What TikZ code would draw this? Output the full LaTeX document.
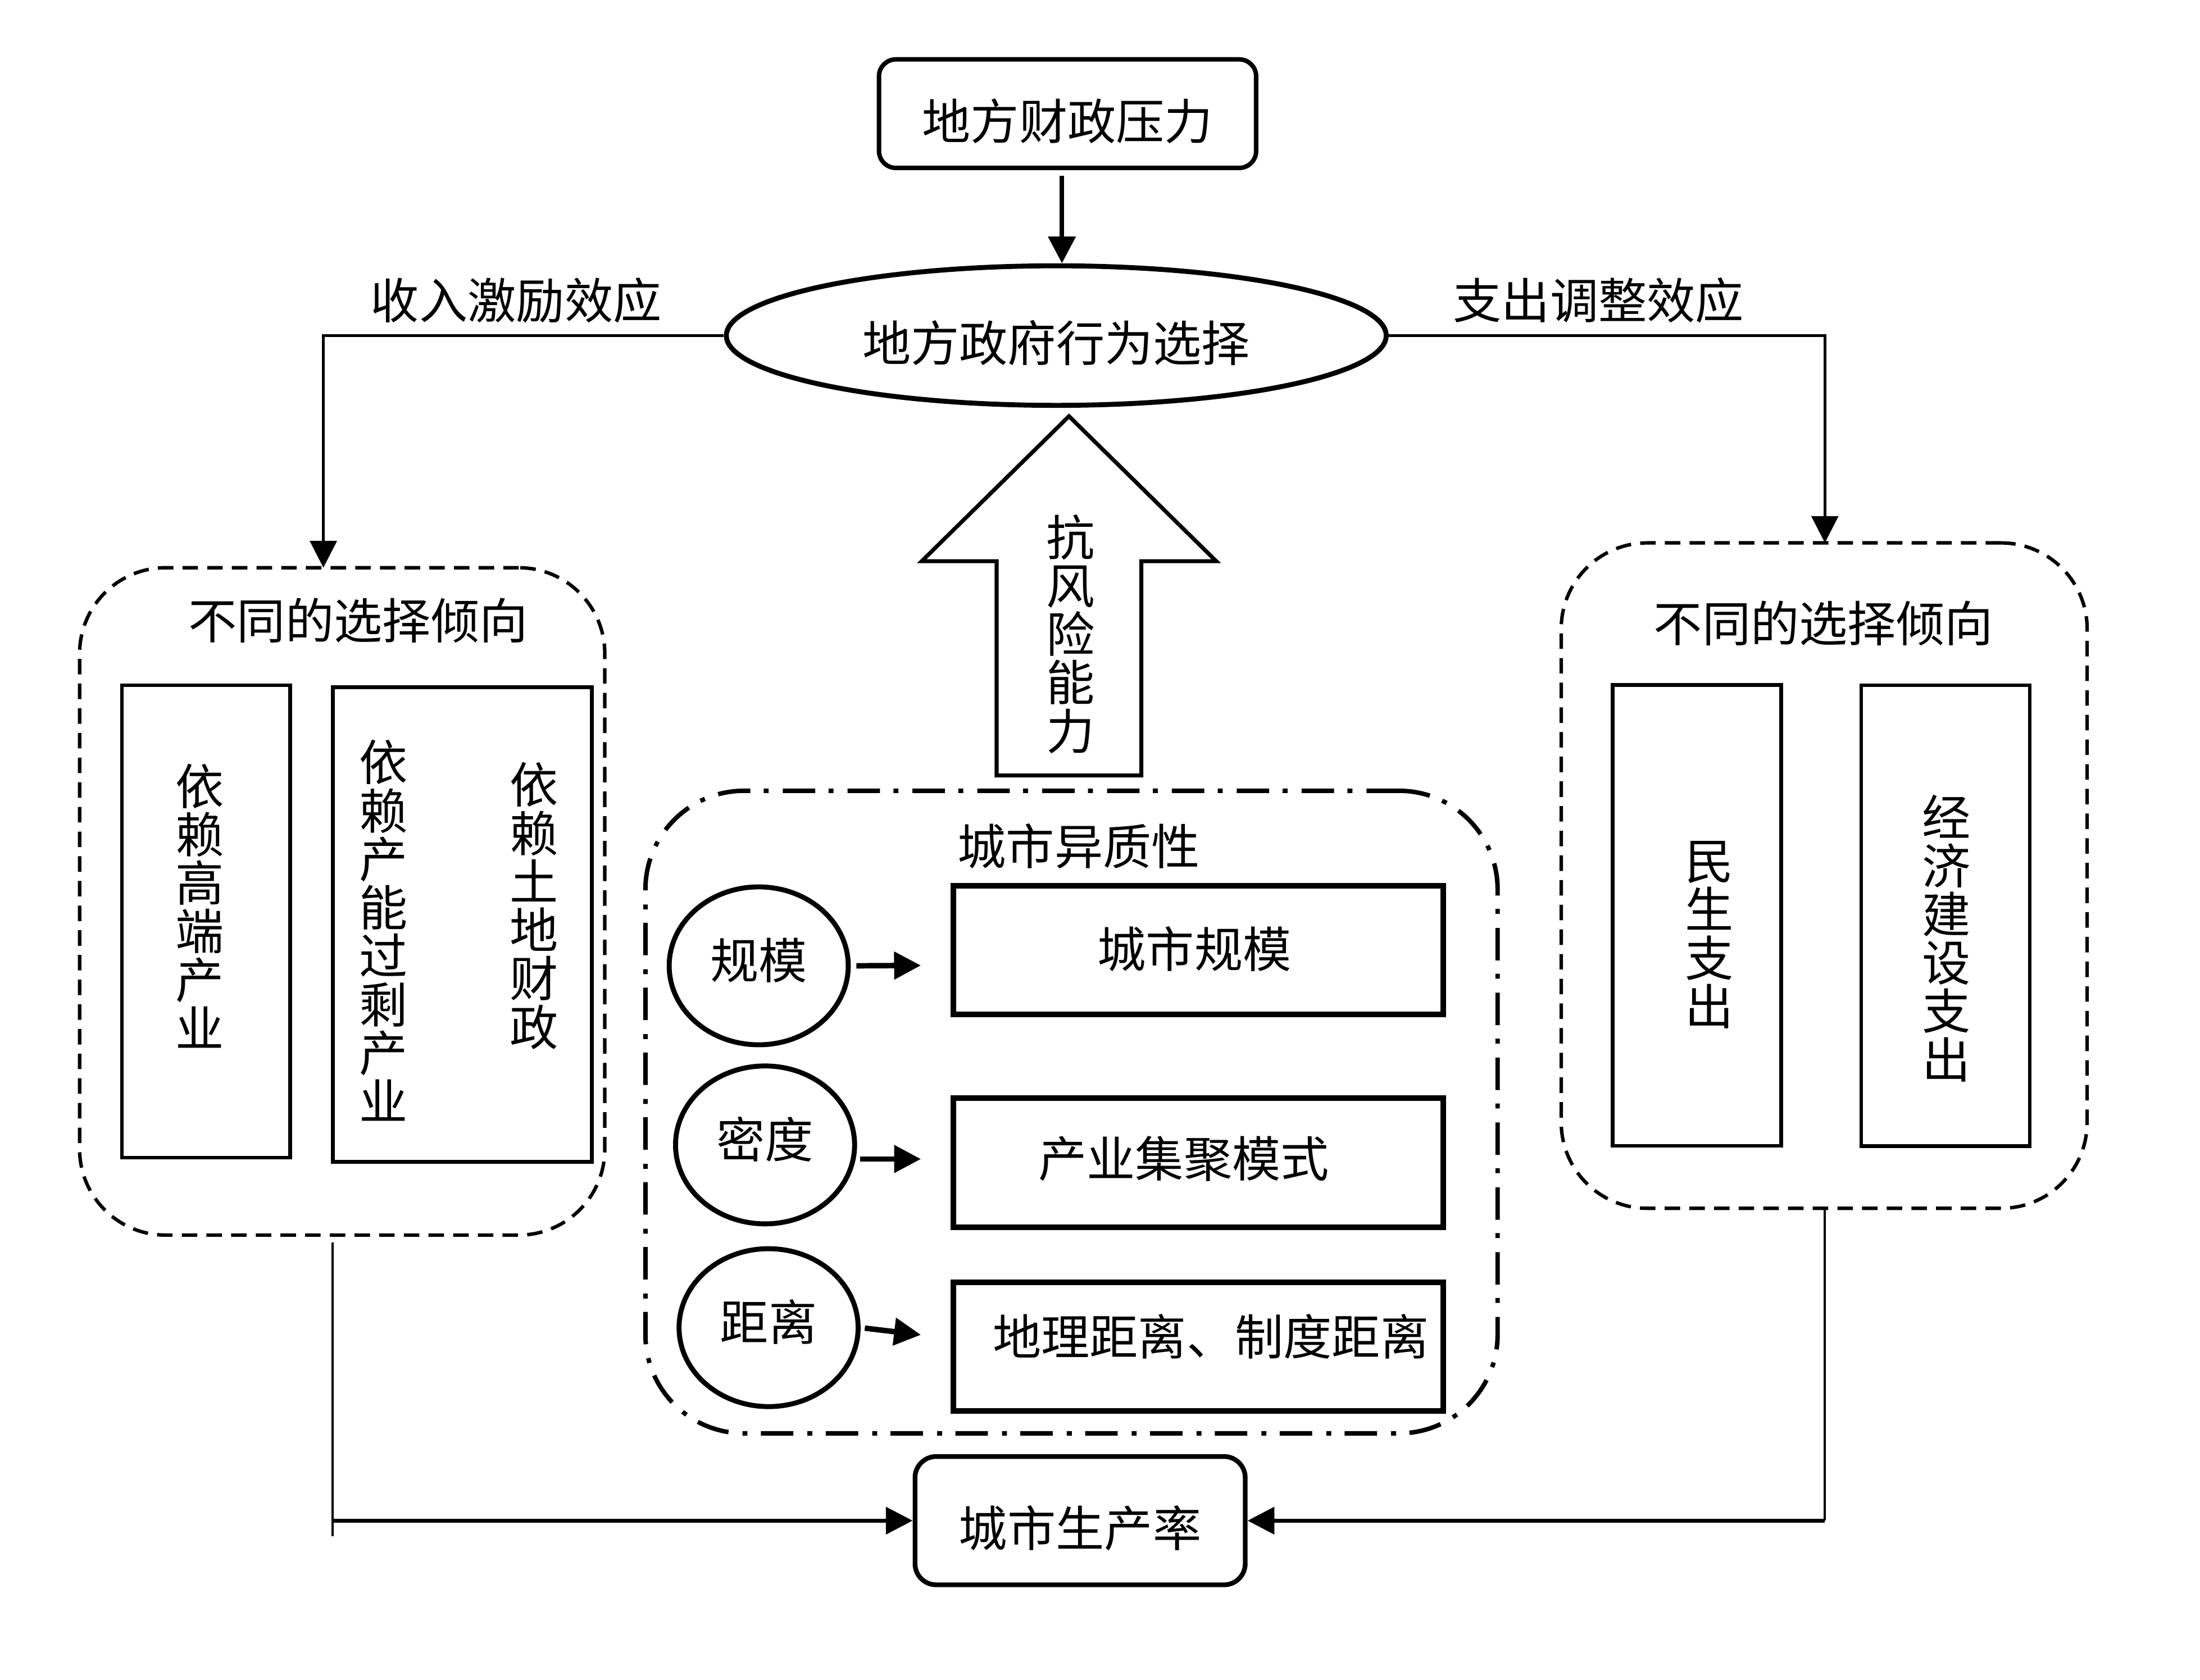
\documentclass[tikz,border=0pt]{standalone}
\usepackage{fontspec}
\setmainfont{Noto Sans CJK SC}
\usetikzlibrary{arrows.meta,shapes.geometric,calc}
\newcommand\tfont{\fontsize{19.56pt}{19.56pt}\selectfont}
\begin{document}
\begin{tikzpicture}[x=0.02cm,y=-0.02cm,
  every node/.style={inner sep=0pt, font=\tfont},
  tip/.style={-{Triangle[length=0.38cm,width=0.38cm]}},
  vtext/.style={align=center},
  lowtext/.style={text height=22.6pt, text depth=1.5pt},
  hightext/.style={text height=12pt, text depth=1.6pt},
  topbox/.style={draw, line width=1.8pt, rounded corners=0.24cm, minimum width=5.35cm, minimum height=1.54cm},
  govell/.style={draw, ellipse, line width=2pt, minimum width=9.36cm, minimum height=1.98cm},
  dashbox/.style={draw, line width=1.4pt, rounded corners=1.22cm, dash pattern=on 0.22cm off 0.13cm},
  colbox/.style={draw, line width=1.5pt, minimum width=2.39cm},
  dotbox/.style={draw, line width=1.8pt, rounded corners=1.4cm, dash pattern=on 0.46cm off 0.2cm on 0.07cm off 0.19cm},
  smell/.style={draw, ellipse, line width=2pt, minimum width=2.54cm, minimum height=2.24cm},
  facbox/.style={draw, line width=2.3pt, minimum width=6.948cm, minimum height=1.83cm},
  botbox/.style={draw, line width=1.9pt, rounded corners=0.3cm, minimum width=4.684cm, minimum height=1.82cm},
  conn/.style={line width=1pt},
  thinline/.style={line width=0.9pt},
  botarr/.style={line width=1.6pt, tip},
  smarr/.style={line width=2.2pt, tip}
]
\useasboundingbox (0,0) rectangle (1560,1191.5);

% top
\node[topbox, lowtext] (fp) at (757,80.6) {地方财政压力};
\node[govell, lowtext] (gov) at (749,238) {地方政府行为选择};
\draw[line width=1.9pt, tip, shorten <=0.08cm] (fp.south) ++(-4,0) coordinate (fps) (fps) -- (fps |- gov.north);

\node (t1) at (366,213) {收入激励效应};
\node (t2) at (1133.5,213) {支出调整效应};

% left group
\node[dashbox, minimum width=7.45cm, minimum height=9.468cm] (lbox) at (242.65,639.3) {};
\node (lt) at (254,440) {不同的选择倾向};
\node[colbox, minimum width=2.386cm, minimum height=6.7cm] (lr1) at (146.15,653.5) {};
\node[colbox, minimum width=3.676cm, minimum height=6.732cm] (lr2) at (327.9,655.7) {};
\node[vtext] (lr1t) at (141.8,642.5) {依\\赖\\高\\端\\产\\业};
\node[vtext] (lr2a) at (272,660) {依\\赖\\产\\能\\过\\剩\\产\\业};
\node[vtext] (lr2b) at (378.7,642.5) {依\\赖\\土\\地\\财\\政};

% right group
\node[dashbox, minimum width=7.46cm, minimum height=9.44cm] (rbox) at (1293.5,621) {};
\node (rt) at (1293,442) {不同的选择倾向};
\node[colbox, minimum height=6.54cm] (rr1) at (1203.35,649.25) {};
\node[colbox, minimum height=6.54cm] (rr2) at (1379.55,649.5) {};
\node[vtext] (rr1t) at (1212,663) {民\\生\\支\\出};
\node[vtext] (rr2t) at (1380,665.5) {经\\济\\建\\设\\支\\出};

% connectors from government behaviour
\coordinate (lin) at (229.3,402.6);
\coordinate (rin) at (1294,385);
\draw[conn, tip] (gov.west) -| (lin);
\draw[conn, tip] (gov.east) -| (rin);

% big hollow arrow
\draw[line width=1.6pt, line join=miter] (758,295.2) -- (862.4,398) -- (809.3,398) -- (809.3,550) -- (706.7,550) -- (706.7,398) -- (653.6,398) -- cycle;
\node[vtext] (risk) at (759,449.6) {抗\\风\\险\\能\\力};

% city heterogeneity
\node[dotbox, minimum width=12.088cm, minimum height=9.116cm] (hbox) at (759.8,788.7) {};
\node (ht) at (765,600) {城市异质性};
\node[smell, hightext] (e1) at (538,685) {规模};
\node[smell, hightext] (e2) at (542.5,812) {密度};
\node[smell, hightext] (e3) at (545,941.6) {距离};
\node[facbox] (cr1) at (849.7,673.8) {};
\node[facbox] (cr2) at (849.7,824.7) {};
\node[facbox] (cr3) at (849.7,955.1) {};
\node (cr1t) at (847,673) {城市规模};
\node (cr2t) at (839.4,822) {产业集聚模式};
\node (cr3t) at (858.6,948) {地理距离、制度距离};
\coordinate (a1e) at (653,684.7);
\coordinate (a2s) at (609.7,822);
\coordinate (a2e) at (653,822);
\coordinate (a3e) at (653,946.7);
\draw[smarr, shorten <=0.08cm] (e1.east) -- (a1e);
\draw[smarr] (a2s) -- (a2e);
\draw[smarr, shorten <=0.06cm] (e3.east) -- (a3e);

% bottom
\node[botbox, lowtext] (pr) at (765.9,1078.5) {城市生产率};
\coordinate (lb1) at (236,881);
\coordinate (lb2) at (236,1089.5);
\coordinate (lb3) at (236,1078.5);
\coordinate (rb1) at (1294,857);
\coordinate (rb2) at (1294,1078.5);
\draw[thinline] (lb1) -- (lb2);
\draw[botarr] (lb3) -- (pr.west);
\draw[thinline] (rb1) -- (rb2);
\draw[botarr] (rb2) -- (pr.east);
\end{tikzpicture}
\end{document}
